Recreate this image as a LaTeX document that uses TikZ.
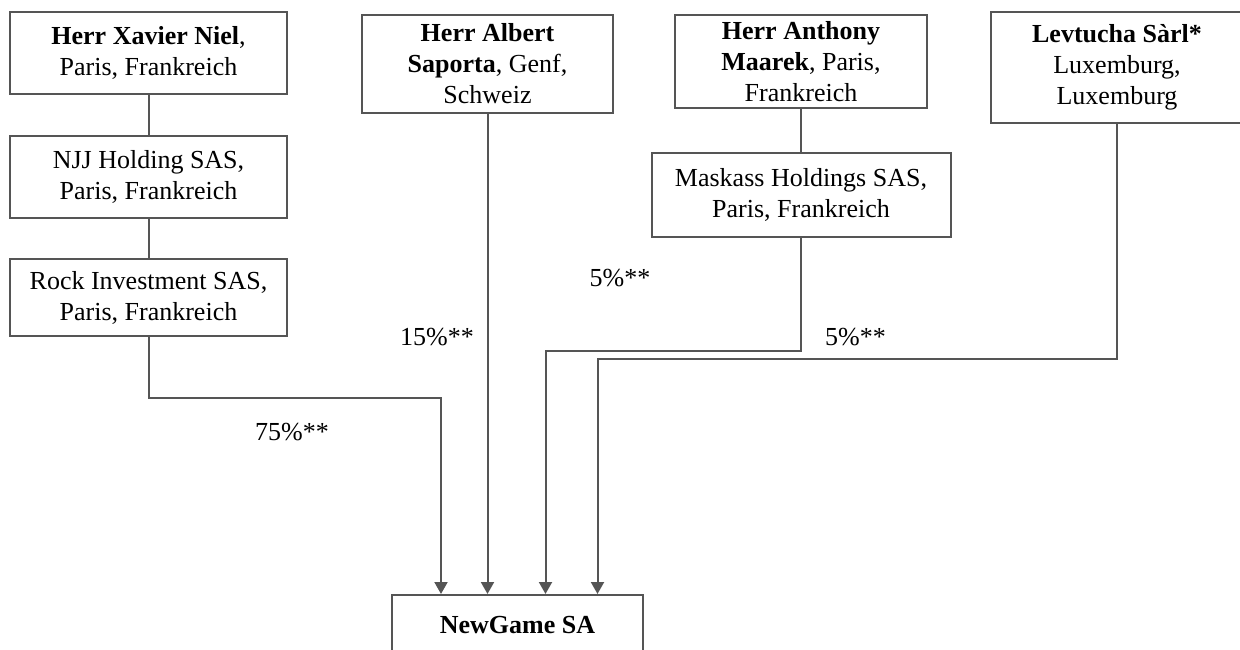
\documentclass[tikz,border=0pt]{standalone}
\usepackage{fontspec}
\setmainfont{Liberation Serif}
\usetikzlibrary{arrows.meta}
\definecolor{ln}{HTML}{555555}
\begin{document}
\begin{tikzpicture}[x=1pt,y=-1pt,
  box/.style={draw=ln,line width=2pt,rectangle,align=center,inner sep=0pt,fill=white,text=black,font=\fontsize{26}{31}\selectfont},
  conn/.style={draw=ln,line width=2pt},
  arr/.style={conn,-{Triangle[width=13pt,length=12pt]}},
  lbl/.style={font=\fontsize{26}{31}\selectfont,inner sep=0pt,text=black}]
\useasboundingbox (0,0) rectangle (1240,650);
\node[box,minimum width=277pt,minimum height=82pt] (xav) at (148.5,53) {\textbf{Herr Xavier Niel},\\Paris, Frankreich};
\node[box,minimum width=277pt,minimum height=82pt] (njj) at (148.5,177) {NJJ Holding SAS,\\Paris, Frankreich};
\node[box,minimum width=277pt,minimum height=77pt] (rock) at (148.5,297.5) {Rock Investment SAS,\\Paris, Frankreich};
\node[box,minimum width=251pt,minimum height=98pt] (alb) at (487.5,64) {\textbf{Herr Albert}\\\textbf{Saporta}, Genf,\\Schweiz};
\node[box,minimum width=252pt,minimum height=93pt] (ant) at (801,61.5) {\textbf{Herr Anthony}\\\textbf{Maarek}, Paris,\\Frankreich};
\node[box,minimum width=299pt,minimum height=84pt] (mas) at (801,195) {Maskass Holdings SAS,\\Paris, Frankreich};
\node[box,minimum width=252pt,minimum height=111pt] (lev) at (1117,67.5) {\textbf{Levtucha Sàrl*}\\Luxemburg,\\Luxemburg};
\node[box,minimum width=251pt,minimum height=60pt] (ng) at (517.5,625) {\textbf{NewGame SA}};

\draw[conn] (xav.south) -- (njj.north);
\draw[conn] (njj.south) -- (rock.north);
\draw[conn] (ant.south) -- (mas.north);
\draw[arr] (rock.south) -- ++(0,61) -| ([xshift=-76.5pt]ng.north);
\draw[arr] (alb.south) -- (alb.south |- ng.north);
\draw[arr] (mas.south) -- ++(0,113) -| ([xshift=28pt]ng.north);
\draw[arr] (lev.south) -- ++(0,235) -| ([xshift=80pt]ng.north);

\node[lbl] (l1) at (620,278) {5\%**};
\node[lbl] (l2) at (437,337) {15\%**};
\node[lbl] (l3) at (855.5,337) {5\%**};
\node[lbl] (l4) at (292,432) {75\%**};
\end{tikzpicture}
\end{document}
